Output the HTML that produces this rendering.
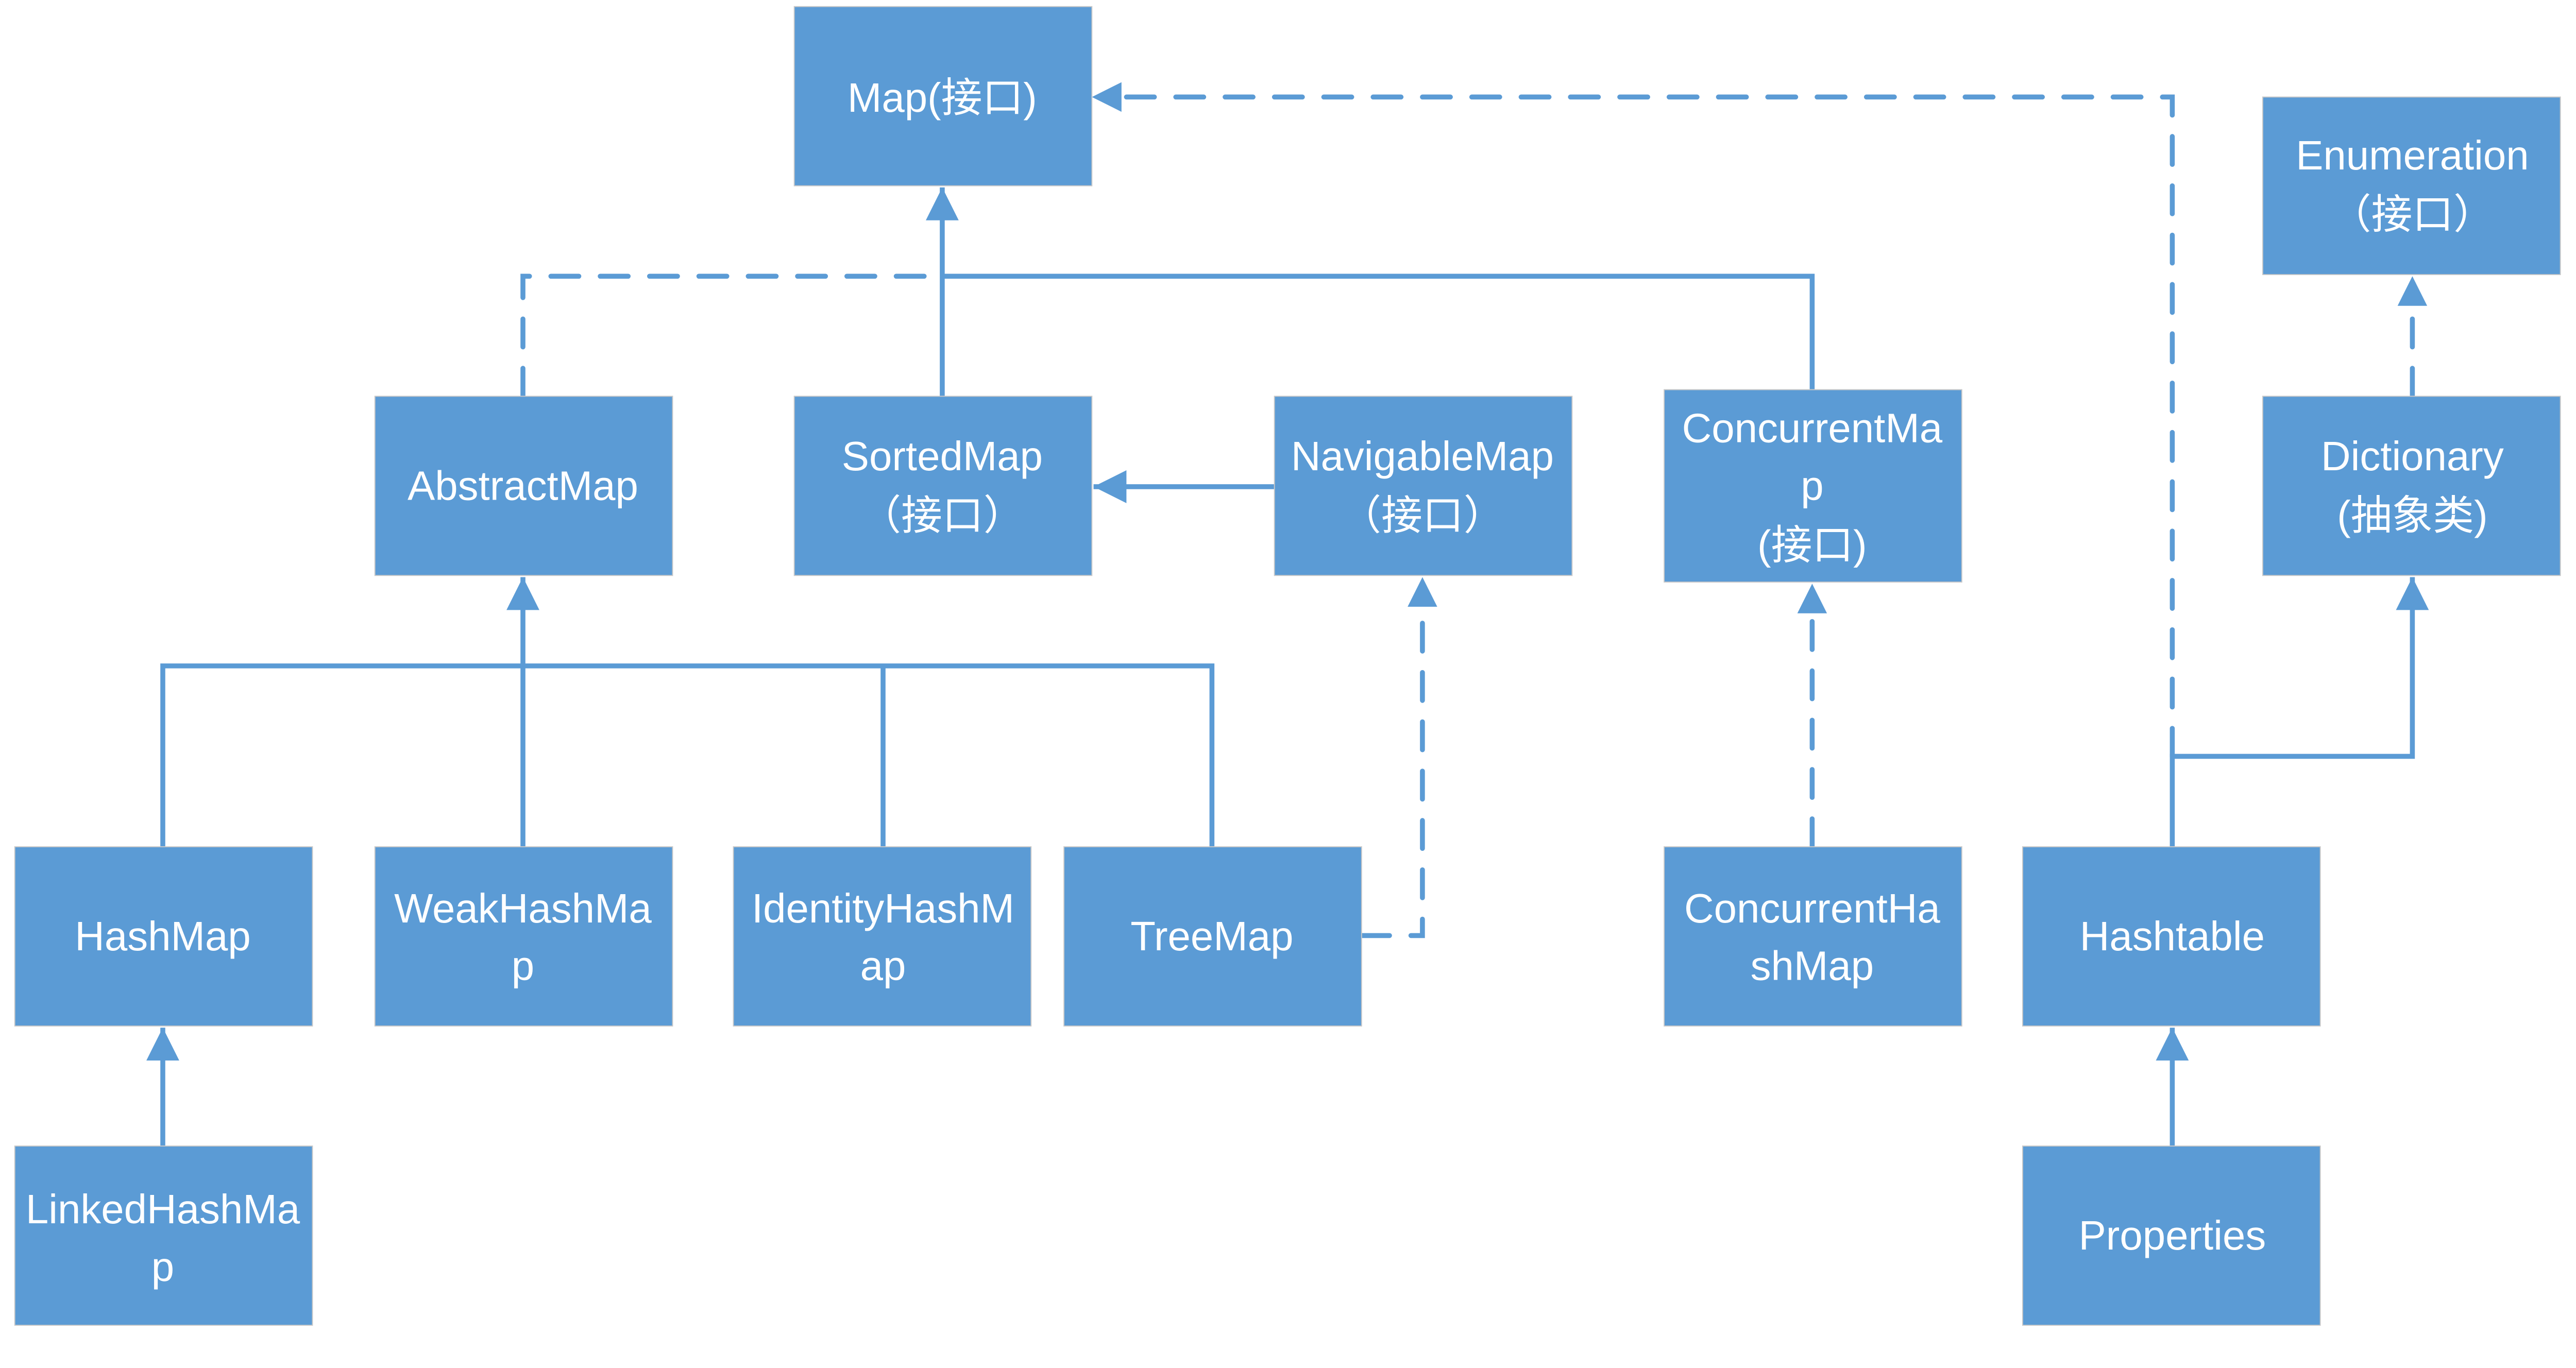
<!DOCTYPE html>
<html><head><meta charset="utf-8"><style>html,body{margin:0;padding:0;background:#fff}svg{display:block}</style></head>
<body>
<svg width="5075" height="2656" viewBox="0 0 1590 832" preserveAspectRatio="none" xmlns="http://www.w3.org/2000/svg">
<defs>
<marker id="a" markerUnits="userSpaceOnUse" markerWidth="20" markerHeight="20" viewBox="0 0 18 18" refX="18" refY="9" orient="auto"><path d="M0,0 L18,9 L0,18 z" fill="#5B9BD5"/></marker>
</defs>
<g fill="none" stroke="#5B9BD5" stroke-width="3">
<path d="M573,241 V114" marker-end="url(#a)"/>
<path d="M573,168 H1102 V237"/>
<path d="M775,296 H665" marker-end="url(#a)"/>
<path d="M99,515 V405 H737 V515 M537,405 V515"/>
<path d="M318,515 V351" marker-end="url(#a)"/>
<path d="M1321,515 V460 H1467 V351" marker-end="url(#a)"/>
<path d="M99,697 V625" marker-end="url(#a)"/>
<path d="M1321,697 V625" marker-end="url(#a)"/>
<g stroke-dasharray="17,13" stroke-linecap="round">
<path d="M318,241 V168 H573"/>
<path d="M1321,460 V59 H668"/>
<path d="M1467,241 V172"/>
<path d="M828,569 H865 V356"/>
<path d="M1102,515 V360"/>
</g>
</g>
<g fill="#5B9BD5">
<path d="M664,59 l18,-9 v18z"/>
<path d="M1467,168 l-9,18 h18z"/>
<path d="M865,351 l-9,18 h18z"/>
<path d="M1102,355 l-9,18 h18z"/>
</g>
<g fill="#5B9BD5" stroke="#c8c8c8" stroke-width="0.6">
<rect x="483" y="4" width="181" height="109"/>
<rect x="1376" y="59" width="181" height="108"/>
<rect x="228" y="241" width="181" height="109"/>
<rect x="483" y="241" width="181" height="109"/>
<rect x="775" y="241" width="181" height="109"/>
<rect x="1012" y="237" width="181" height="117"/>
<rect x="1376" y="241" width="181" height="109"/>
<rect x="9" y="515" width="181" height="109"/>
<rect x="228" y="515" width="181" height="109"/>
<rect x="446" y="515" width="181" height="109"/>
<rect x="647" y="515" width="181" height="109"/>
<rect x="1012" y="515" width="181" height="109"/>
<rect x="1230" y="515" width="181" height="109"/>
<rect x="9" y="697" width="181" height="109"/>
<rect x="1230" y="697" width="181" height="109"/>
</g>
<g fill="#fff" font-family="'Liberation Sans','Noto Sans CJK SC',sans-serif" font-size="25" text-anchor="middle">
<text x="573" y="68">Map(接口)</text>
<text x="1467" y="103">Enumeration</text><text x="1467" y="139">（接口）</text>
<text x="318" y="304">AbstractMap</text>
<text x="573" y="286">SortedMap</text><text x="573" y="322">（接口）</text>
<text x="865" y="286">NavigableMap</text><text x="865" y="322">（接口）</text>
<text x="1102" y="269">ConcurrentMa</text><text x="1102" y="304">p</text><text x="1102" y="340">(接口)</text>
<text x="1467" y="286">Dictionary</text><text x="1467" y="322">(抽象类)</text>
<text x="99" y="578">HashMap</text>
<text x="318" y="561">WeakHashMa</text><text x="318" y="596">p</text>
<text x="537" y="561">IdentityHashM</text><text x="537" y="596">ap</text>
<text x="737" y="578">TreeMap</text>
<text x="1102" y="561">ConcurrentHa</text><text x="1102" y="596">shMap</text>
<text x="1321" y="578">Hashtable</text>
<text x="99" y="744">LinkedHashMa</text><text x="99" y="779">p</text>
<text x="1321" y="760">Properties</text>
</g>
</svg>
</body></html>
